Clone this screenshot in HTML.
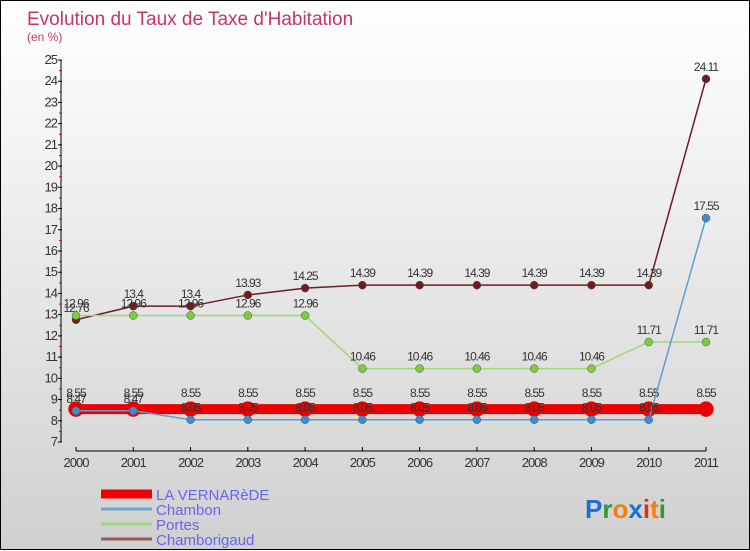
<!DOCTYPE html>
<html><head><meta charset="utf-8"><style>
body{margin:0}
#c{width:748px;height:548px;border:1px solid #000;background:linear-gradient(#fff,#d0d0d0);position:relative;font-family:"Liberation Sans",sans-serif}
svg{position:absolute;left:0;top:0}
</style></head><body>
<div id="c">
<svg id="s" width="750" height="550"></svg>
</div>
<script>
const years=["2000","2001","2002","2003","2004","2005","2006","2007","2008","2009","2010","2011"];
const vernarede=[8.55,8.55,8.55,8.55,8.55,8.55,8.55,8.55,8.55,8.55,8.55,8.55];
const chambon=[8.47,8.47,8.05,8.05,8.05,8.05,8.05,8.05,8.05,8.05,8.05,17.55];
const portes=[12.96,12.96,12.96,12.96,12.96,10.46,10.46,10.46,10.46,10.46,11.71,11.71];
const chamborigaud=[12.76,13.4,13.4,13.93,14.25,14.39,14.39,14.39,14.39,14.39,14.39,24.11];
const yTicks=[7,8,9,10,11,12,13,14,15,16,17,18,19,20,21,22,23,24,25];
const s=document.getElementById('s');const NS='http://www.w3.org/2000/svg';
function X(i){return 75+i*(630/11);}
function Y(v){return 441-(v-7)*(382/18);}
function el(t,a,name,txt){const e=document.createElementNS(NS,t);for(const k in a)e.setAttribute(k,a[k]);


if(txt!==undefined)e.textContent=txt;s.appendChild(e);return e;}
el('text',{x:26,y:24,'font-size':19,fill:'#c8336a'},'chart-title','Evolution du Taux de Taxe d\'Habitation');
el('text',{x:26,y:40,'font-size':12,fill:'#c8336a'},'chart-subtitle','(en %)');
el('line',{x1:60,y1:59,x2:60,y2:441,stroke:'#000','stroke-width':1},'y-axis');
el('line',{x1:75,y1:450,x2:705,y2:450,stroke:'#000','stroke-width':1},'x-axis');
yTicks.forEach(v=>{const y=Y(v);
el('line',{x1:57,y1:y,x2:61,y2:y,stroke:'#000'},'y-tick');
if(v<25)el('line',{x1:58,y1:y-10.6,x2:61,y2:y-10.6,stroke:'#e00'},'y-minor-tick');
el('text',{x:56,y:y+4,'font-size':13,fill:'#333','text-anchor':'end','letter-spacing':'-1'},'y-tick-label',v);});
years.forEach((t,i)=>{el('line',{x1:X(i),y1:446,x2:X(i),y2:450,stroke:'#000'},'x-tick');
el('text',{x:X(i),y:466,'font-size':13,fill:'#333','text-anchor':'middle','letter-spacing':'-1'},'x-tick-label',t);});
function series(d,col,w,r,name,dot,lbl){
el('polyline',{points:d.map((v,i)=>X(i)+','+Y(v)).join(' '),fill:'none',stroke:col,'stroke-width':w},name+'-line');
d.forEach((v,i)=>{el('circle',{cx:X(i),cy:Y(v),r:r,fill:dot,stroke:col==='#e00'?'#c00':'#555','stroke-width':0.5},name+'-point');
el('text',{x:X(i),y:Y(v)+lbl,'font-size':12,fill:'#333','text-anchor':'middle','letter-spacing':'-1'},name+'-value',v);});}
series(chamborigaud,'#6e1c20',1.5,4,'chamborigaud','#6e1c20',-8);
series(portes,'#9dd87a',1.5,4,'portes','#7ccc3c',-8);
series(vernarede,'#e00',10,7.5,'vernarede','#e00',-12);
series(chambon,'#5aa0d0',1.5,4,'chambon','#3a8ed0',-8);
const leg=[['LA VERNARèDE','#e00',9],['Chambon','#6aa8d0',3],['Portes','#9dd87a',3],['Chamborigaud','#9a5a5a',3]];
leg.forEach((l,i)=>{const y=493+i*15;
el('line',{x1:100,y1:y,x2:151,y2:y,stroke:l[1],'stroke-width':l[2]},'legend-swatch');
el('text',{x:155,y:y+6,'font-size':15,fill:'#6666ee'},'legend-label',l[0]);});
const logoEl=el('text',{x:584,y:517,'font-size':26,'font-weight':'bold'},'proxiti-logo');
[['P','#1a6fd0'],['r','#2a9a3a'],['o','#f08010'],['x','#1a6fd0'],['i','#e03010'],['t','#f08010'],['i','#2a9a3a']].forEach(c=>{
const t=document.createElementNS(NS,'tspan');t.setAttribute('fill',c[1]);t.textContent=c[0];


logoEl.appendChild(t);});
</script>
</body></html>
